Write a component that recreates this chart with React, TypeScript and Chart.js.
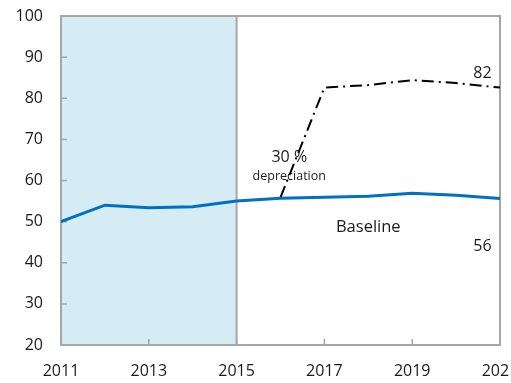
import React, { useEffect, useRef } from "react";
import { Chart, registerables } from "chart.js";

Chart.register(...registerables);

const years = [2011, 2012, 2013, 2014, 2015, 2016, 2017, 2018, 2019, 2020, 2021];
const baseline = [50.0, 54.0, 53.4, 53.6, 55.0, 55.7, 55.9, 56.2, 56.9, 56.4, 55.6];
const depYears = [2016, 2017, 2018, 2019, 2020, 2021];
const depreciation = [55.9, 82.6, 83.2, 84.4, 83.7, 82.6];
const xTicks = [2011, 2013, 2015, 2017, 2019, 2021];
const yTicks = [20, 30, 40, 50, 60, 70, 80, 90, 100];
const shadeRange = [2011, 2015];
const annotations = [
  { x: 2016.2, y: 65.6, text: "30 %", size: 16 },
  { x: 2016.2, y: 61.1, text: "depreciation", size: 12.5 },
  { x: 2018.0, y: 48.7, text: "Baseline", size: 16.5 },
  { x: 2020.6, y: 86.1, text: "82", size: 16 },
  { x: 2020.6, y: 44.0, text: "56", size: 16 },
];

const FONT = "'Open Sans', 'Noto Sans', sans-serif";
const FRAME = "#A6A6A6";

const framePlugin = {
  id: "frame",
  beforeDatasetsDraw(chart: any) {
    const { ctx, chartArea: a, scales } = chart;
    const xs = scales.x;
    const ys = scales.y;
    ctx.save();
    ctx.fillStyle = "#D5ECF4";
    const x0 = xs.getPixelForValue(shadeRange[0]);
    const x1 = xs.getPixelForValue(shadeRange[1]);
    ctx.fillRect(x0, a.top, x1 - x0, a.bottom - a.top);
    ctx.strokeStyle = FRAME;
    ctx.lineWidth = 2;
    ctx.beginPath();
    ctx.moveTo(x1, a.top);
    ctx.lineTo(x1, a.bottom);
    ctx.stroke();
    ctx.strokeRect(a.left, a.top, a.right - a.left, a.bottom - a.top);
    ctx.lineWidth = 1.5;
    ctx.beginPath();
    yTicks.forEach((v) => {
      const y = ys.getPixelForValue(v);
      ctx.moveTo(a.left, y);
      ctx.lineTo(a.left + 6, y);
    });
    xTicks.forEach((v) => {
      const x = xs.getPixelForValue(v);
      ctx.moveTo(x, a.bottom);
      ctx.lineTo(x, a.bottom - 6);
    });
    ctx.stroke();
    ctx.fillStyle = "#1a1a1a";
    ctx.textAlign = "center";
    ctx.textBaseline = "middle";
    annotations.slice(0, 2).forEach((an) => {
      ctx.font = `${an.size}px ${FONT}`;
      ctx.fillText(an.text, xs.getPixelForValue(an.x), ys.getPixelForValue(an.y));
    });
    ctx.restore();
  },
  afterDatasetsDraw(chart: any) {
    const { ctx, scales } = chart;
    ctx.save();
    ctx.fillStyle = "#1a1a1a";
    ctx.textAlign = "center";
    ctx.textBaseline = "middle";
    annotations.slice(2).forEach((an) => {
      ctx.font = `${an.size}px ${FONT}`;
      ctx.fillText(an.text, scales.x.getPixelForValue(an.x), scales.y.getPixelForValue(an.y));
    });
    ctx.restore();
  },
};

const zeroPad = (s: any) => {
  s.paddingLeft = 0;
  s.paddingRight = 0;
  s.paddingTop = 0;
  s.paddingBottom = 0;
};

export default function App() {
  const ref = useRef<HTMLCanvasElement>(null);
  useEffect(() => {
    document.body.style.margin = "0";
    const chart = new Chart(ref.current!, {
      type: "line",
      data: {
        datasets: [
          {
            data: years.map((x, i) => ({ x, y: baseline[i] })),
            borderColor: "#0070C0",
            borderWidth: 3,
            pointRadius: 0,
            tension: 0,
          },
          {
            data: depYears.map((x, i) => ({ x, y: depreciation[i] })),
            borderColor: "#000000",
            borderWidth: 2,
            borderDash: [12, 5, 2, 5],
            pointRadius: 0,
            tension: 0,
          },
        ],
      },
      options: {
        animation: false,
        responsive: false,
        layout: { autoPadding: false, padding: { top: 16, right: 11, left: 0, bottom: 0 } },
        plugins: { legend: { display: false }, tooltip: { enabled: false } },
        scales: {
          x: {
            type: "linear",
            min: 2011,
            max: 2021,
            afterFit: (s: any) => { s.height = 38; zeroPad(s); },
            afterBuildTicks: (s: any) => { s.ticks = xTicks.map((v) => ({ value: v })); },
            grid: { display: false, drawTicks: false },
            border: { display: false },
            ticks: {
              padding: 17,
              maxRotation: 0,
              autoSkip: false,
              color: "#1a1a1a",
              font: { family: FONT, size: 16 },
              callback: (v: any) => String(v),
            },
          },
          y: {
            min: 20,
            max: 100,
            afterFit: (s: any) => { s.width = 61; zeroPad(s); },
            afterBuildTicks: (s: any) => { s.ticks = yTicks.map((v) => ({ value: v })); },
            grid: { display: false, drawTicks: false },
            border: { display: false },
            ticks: {
              padding: 18,
              color: "#1a1a1a",
              font: { family: FONT, size: 16 },
            },
          },
        },
      },
      plugins: [framePlugin],
    });
    return () => chart.destroy();
  }, []);
  return (
    <div style={{ position: "absolute", left: 0, top: 0, width: 511, height: 383 }}>
      <canvas ref={ref} width={511} height={383} style={{ display: "block" }} />
    </div>
  );
}
